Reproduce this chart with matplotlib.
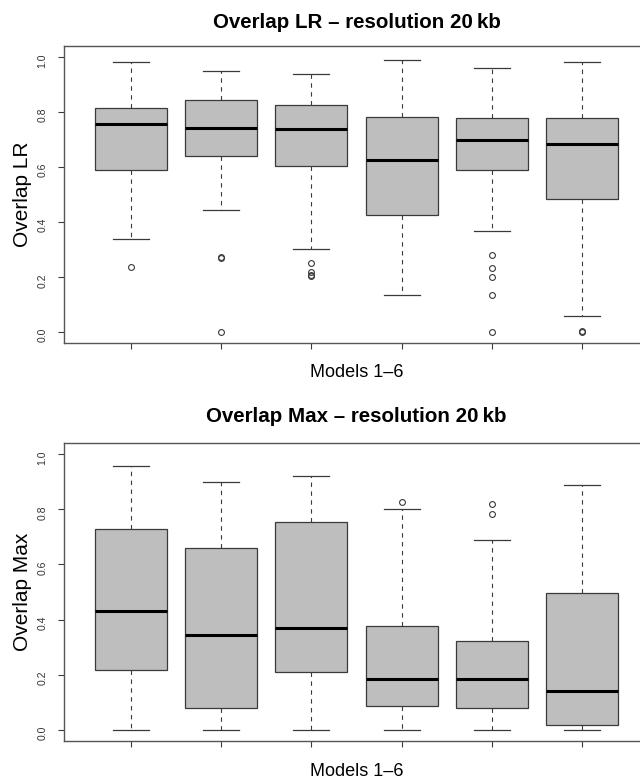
import matplotlib
matplotlib.use("Agg")
import matplotlib.pyplot as plt

plt.rcParams['font.family'] = ['Liberation Sans', 'DejaVu Sans']

models = [1, 2, 3, 4, 5, 6]

# Overlap LR - five number summaries
lr_whislo = [0.337, 0.442, 0.301, 0.134, 0.366, 0.057]
lr_q1 = [0.589, 0.641, 0.605, 0.425, 0.589, 0.483]
lr_med = [0.755, 0.743, 0.738, 0.627, 0.700, 0.684]
lr_q3 = [0.813, 0.844, 0.825, 0.783, 0.780, 0.780]
lr_whishi = [0.981, 0.948, 0.939, 0.990, 0.959, 0.982]
lr_fliers = [[0.237],
             [0.272, 0.269, 0.0],
             [0.251, 0.218, 0.209, 0.202],
             [],
             [0.280, 0.232, 0.200, 0.134, 0.0],
             [0.005, 0.0]]

# Overlap Max
mx_whislo = [0.0, 0.0, 0.0, 0.0, 0.0, 0.0]
mx_q1 = [0.219, 0.079, 0.211, 0.086, 0.079, 0.018]
mx_med = [0.432, 0.345, 0.371, 0.186, 0.183, 0.141]
mx_q3 = [0.730, 0.659, 0.754, 0.376, 0.323, 0.498]
mx_whishi = [0.955, 0.900, 0.920, 0.800, 0.687, 0.887]
mx_fliers = [[], [], [], [0.826], [0.820, 0.783], []]

yticks = [0.0, 0.2, 0.4, 0.6, 0.8, 1.0]

W, H = 640, 779
fig = plt.figure(figsize=(W / 100, H / 100), dpi=100)

line_col = '#3a3a3a'


def draw_panel(rect, whislo, q1, med, q3, whishi, fliers, title, ylabel, title_y, xlabel_y):
    left, top, right, bottom = rect
    ax = fig.add_axes([left / W, 1 - bottom / H, (right - left) / W, (bottom - top) / H])
    stats = []
    for i in range(len(models)):
        stats.append(dict(whislo=whislo[i], q1=q1[i], med=med[i], q3=q3[i],
                          whishi=whishi[i], fliers=fliers[i]))
    ax.bxp(stats, positions=models, widths=0.8, patch_artist=True,
           boxprops=dict(facecolor='#bebebe', edgecolor=line_col, linewidth=0.9),
           medianprops=dict(color='black', linewidth=2.2, solid_capstyle='butt'),
           whiskerprops=dict(color=line_col, linewidth=0.8, linestyle=(0, (4, 4))),
           capprops=dict(color=line_col, linewidth=0.9),
           capwidths=0.4,
           flierprops=dict(marker='o', markersize=4.2, markerfacecolor='none',
                           markeredgecolor=line_col, markeredgewidth=0.8))
    ax.set_xlim(0.26, 6.74)
    ax.set_ylim(-0.04, 1.04)
    ax.set_xticks(models)
    ax.set_xticklabels([])
    ax.set_yticks(yticks)
    ax.set_yticklabels(['%.1f' % v for v in yticks])
    ax.tick_params(axis='both', direction='out', length=4.5, width=0.8, color=line_col)
    ax.tick_params(axis='y', labelrotation=90, labelsize=7.5, labelcolor='#333333', pad=7.5)
    for s in ax.spines.values():
        s.set_color('#555555')
        s.set_linewidth(1.0)
    cx = (left + right) / 2 / W
    fig.text(cx, 1 - title_y / H, title, ha='center', va='center',
             fontsize=14.8, fontweight='bold')
    fig.text(cx, 1 - xlabel_y / H, 'Models 1\u20136', ha='center', va='center', fontsize=13)
    fig.text(23 / W, 1 - (top + bottom) / 2 / H, ylabel, ha='center', va='center',
             rotation=90, fontsize=15)
    return ax


draw_panel((64, 46, 649, 343), lr_whislo, lr_q1, lr_med, lr_q3, lr_whishi, lr_fliers,
           'Overlap LR \u2013 resolution 20\u2009kb', 'Overlap LR', 22, 372)
draw_panel((64, 443, 649, 741), mx_whislo, mx_q1, mx_med, mx_q3, mx_whishi, mx_fliers,
           'Overlap Max \u2013 resolution 20\u2009kb', 'Overlap Max', 417, 771)

fig.savefig('out.png', dpi=100)
